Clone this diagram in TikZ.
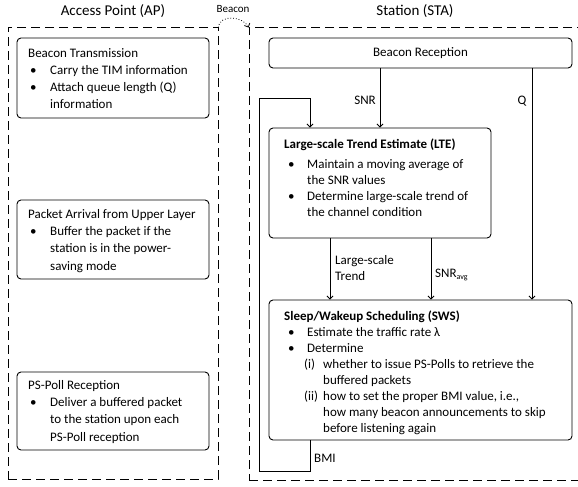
\documentclass[tikz,border=0pt]{standalone}
\usepackage{fontspec}
\setmainfont{Carlito}
\usetikzlibrary{arrows.meta}
\newcommand\mybul{\hspace*{2pt}\makebox[20pt][l]{\textbullet}}
\newcommand\mybulb{\hspace*{4pt}\makebox[19pt][l]{\textbullet}}
\begin{document}
\begin{tikzpicture}[x=1pt,y=-1pt,
 box/.style={draw, rounded corners=4pt, line width=0.9pt, inner sep=0pt},
 dbox/.style={draw, dash pattern=on 9pt off 5pt, line width=0.9pt, inner sep=0pt},
 txt/.style={align=left, anchor=base west, inner sep=0pt, font=\fontsize{13}{17}\selectfont},
 lbl/.style={inner sep=0pt, font=\fontsize{13}{16}\selectfont},
 head/.style={inner sep=0pt, font=\fontsize{15}{18}\selectfont},
 arr/.style={-{Straight Barb[length=3pt,width=6pt]}, line width=0.8pt},
 ln/.style={line width=0.8pt}]
\useasboundingbox (0,0) rectangle (578,487);

% containers
\node[dbox, minimum width=210, minimum height=452] (ap) at (113,253) {};
\node[dbox, minimum width=341, minimum height=453] (sta) at (419.5,253.5) {};
\node[head] (aph) at (113,11) {Access Point (AP)};
\node[head] (stah) at (415,11) {Station (STA)};
\node[inner sep=0pt, font=\fontsize{11}{13}\selectfont] (bcn) at (233,9) {Beacon};
\draw[line width=0.8pt, dotted, -{Straight Barb[length=3pt,width=6pt]}]
  ([yshift=-1pt]ap.north east) .. controls +(1,-14) and +(-5,-11) .. ([yshift=-1pt]sta.north west);

% AP boxes
\node[box, minimum width=192, minimum height=80] (bt) at (113,78) {};
\node[txt] (btt) at (28,108) {Beacon Transmission\\
\mybul Carry the TIM information\\
\mybul Attach queue length (Q)\\
\hspace*{22pt}information};

\node[box, minimum width=192, minimum height=79] (pa) at (113,239.5) {};
\node[txt, font=\fontsize{13}{17.3}\selectfont] (pat) at (28,270) {Packet Arrival from Upper Layer\\
\mybul Buffer the packet if the\\
\hspace*{22pt}station is in the power-\\
\hspace*{22pt}saving mode};

\node[box, minimum width=192, minimum height=78] (ps) at (113,411) {};
\node[txt, font=\fontsize{13}{17.3}\selectfont] (pst) at (28,441) {PS-Poll Reception\\
\mybul Deliver a buffered packet\\
\hspace*{22pt}to the station upon each\\
\hspace*{22pt}PS-Poll reception};

% STA boxes
\node[box, minimum width=303, minimum height=30, font=\fontsize{13}{15}\selectfont] (br) at (420.5,53) {Beacon Reception};

\node[box, minimum width=222, minimum height=110] (lte) at (380,183) {};
\node[txt, font=\fontsize{13}{16}\selectfont] (ltet) at (284,216) {\textbf{Large-scale Trend Estimate (LTE)}\\[4pt]
\mybulb Maintain a moving average of\\
\hspace*{23pt}the SNR values\\
\mybulb Determine large-scale trend of\\
\hspace*{23pt}the channel condition};

\node[box, minimum width=303, minimum height=140] (sws) at (420.5,370) {};
\node[txt, font=\fontsize{13}{15.86}\selectfont] (swst) at (284,432) {\textbf{Sleep/Wakeup Scheduling (SWS)}\\
\mybulb Estimate the traffic rate λ\\
\mybulb Determine\\
\hspace*{20pt}\makebox[19pt][l]{(i)}whether to issue PS-Polls to retrieve the\\
\hspace*{39pt}buffered packets\\
\hspace*{20pt}\makebox[19pt][l]{(ii)}how to set the proper BMI value, i.e.,\\
\hspace*{39pt}how many beacon announcements to skip\\
\hspace*{39pt}before listening again};

% labels
\node[lbl, anchor=base east] (lsnr) at (376,104) {SNR};
\node[lbl, anchor=base] (lq) at (522,104) {Q};
\node[lbl, anchor=base west, align=left] (llt) at (335,280) {Large-scale\\Trend};
\node[lbl, anchor=base west] (lavg) at (435,277) {SNR{\fontsize{8}{9}\selectfont\raisebox{-2.5pt}{avg}}};
\node[lbl, anchor=base west] (lbmi) at (314,462) {BMI};

% connectors
\coordinate (xs) at (380,0);
\coordinate (xq) at (532,0);
\coordinate (xl) at (330,0);
\coordinate (xa) at (431,0);
\coordinate (xf) at (310,0);
\coordinate (lb) at (259,471);
\coordinate (lt) at (259,98);
\draw[arr] (br.south -| xs) -- (lte.north -| xs);
\draw[arr] (br.south -| xq) -- (sws.north -| xq);
\draw[arr] (lte.south -| xl) -- (sws.north -| xl);
\draw[arr] (lte.south -| xa) -- (sws.north -| xa);
\draw[arr] (sws.south -| xf) |- (lb) -- (lt) -| (lte.north -| xf);
\end{tikzpicture}
\end{document}
